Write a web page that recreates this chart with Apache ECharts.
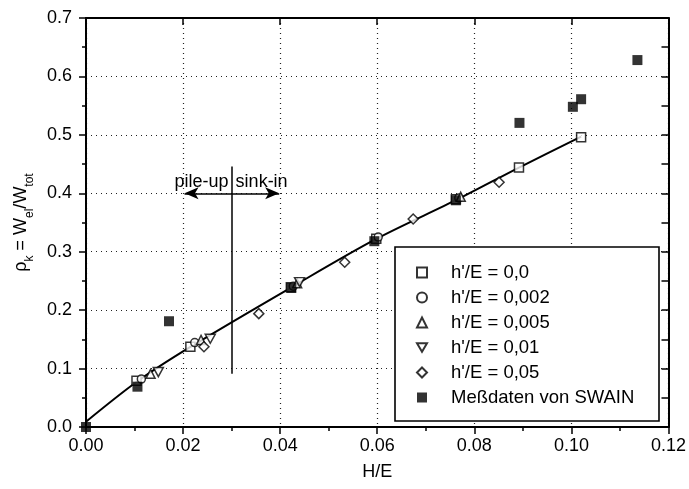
<!DOCTYPE html>
<html>
<head>
<meta charset="utf-8">
<script src="https://cdn.jsdelivr.net/npm/echarts@6/dist/echarts.min.js"></script>
<style>
  html, body { margin: 0; padding: 0; background: #fff; }
  #chart { width: 689px; height: 489px; }
</style>
</head>
<body>
<div id="chart"></div>
<script>
// Messpunkte (H/E, rho_k)
const sq0X = [0.0104, 0.0215, 0.0422, 0.0598, 0.0762, 0.0892, 0.1020];
const sq0Y = [0.079, 0.1375, 0.239, 0.322, 0.390, 0.444, 0.496];
const c002X = [0.0114, 0.0224, 0.0427, 0.0602, 0.0768];
const c002Y = [0.082, 0.1445, 0.241, 0.325, 0.392];
const t005X = [0.0133, 0.0237, 0.0435, 0.0772];
const t005Y = [0.091, 0.149, 0.246, 0.394];
const t01X = [0.0149, 0.0256, 0.0440];
const t01Y = [0.094, 0.151, 0.248];
const d05X = [0.0243, 0.0356, 0.0533, 0.0674, 0.0851];
const d05Y = [0.1375, 0.194, 0.282, 0.356, 0.419];
const swainX = [0, 0.0106, 0.0171, 0.0423, 0.0594, 0.0762, 0.0893, 0.1003, 0.1020, 0.1136];
const swainY = [0, 0.069, 0.181, 0.238, 0.318, 0.388, 0.5205, 0.548, 0.561, 0.628];
// Ausgleichskurve
const fitX = [0, 0.0104, 0.0215, 0.0425, 0.0596, 0.0764, 0.0892, 0.102];
const fitY = [0.009, 0.077, 0.137, 0.240, 0.321, 0.389, 0.444, 0.497];

const legendNames = ["h'/E = 0,0", "h'/E = 0,002", "h'/E = 0,005", "h'/E = 0,01", "h'/E = 0,05", "Meßdaten von SWAIN"];

const font = "'Liberation Sans', Arial, Helvetica, sans-serif";
// Dreieck mit Spitze nach unten
const triDown = "path://M0,0 L10,0 L5,8.66 Z";

function pts(xs, ys) {
  return xs.map((x, i) => [x, ys[i]]);
}

const myChart = echarts.init(document.getElementById("chart"));

const axisCommon = {
  type: "value",
  axisLine: { show: true, onZero: false, lineStyle: { color: "#000", width: 2 } },
  axisTick: { show: true, length: 7, lineStyle: { color: "#000", width: 1.5 } },
  minorTick: { show: true, splitNumber: 2, length: 4, lineStyle: { color: "#000", width: 1.5 } },
  axisLabel: { color: "#000", fontFamily: font, fontSize: 18 },
};

const openStyle = { color: "#fff", borderColor: "#000", borderWidth: 1.5 };

const option = {
  animation: false,
  backgroundColor: "#fff",
  grid: { left: 86, right: 18, top: 18, bottom: 62 },
  xAxis: [
    Object.assign({}, axisCommon, {
      min: 0, max: 0.12, interval: 0.02,
      position: "bottom",
      axisLabel: Object.assign({}, axisCommon.axisLabel, { margin: 10, formatter: v => v.toFixed(2) }),
      splitLine: { show: true, lineStyle: { color: "#222", type: [1, 4], width: 1.2 } },
      name: "H/E", nameLocation: "middle", nameGap: 36,
      nameTextStyle: { color: "#000", fontFamily: font, fontSize: 18 },
    }),
    Object.assign({}, axisCommon, {
      min: 0, max: 0.12, interval: 0.02,
      position: "top",
      axisTick: Object.assign({}, axisCommon.axisTick, { inside: true }),
      minorTick: Object.assign({}, axisCommon.minorTick, { show: false }),
      axisLabel: { show: false },
      splitLine: { show: false },
    }),
  ],
  yAxis: [
    Object.assign({}, axisCommon, {
      min: 0, max: 0.7, interval: 0.1,
      position: "left",
      axisLabel: Object.assign({}, axisCommon.axisLabel, { margin: 14, formatter: v => v.toFixed(1) }),
      splitLine: { show: true, lineStyle: { color: "#222", type: [1, 4], width: 1.2 } },
      name: "{a|ρ}{s|k}{a| = W}{s|el}{a|/W}{s|tot}",
      nameLocation: "middle", nameGap: 50, nameRotate: 90,
      nameTextStyle: {
        color: "#000", fontFamily: font, fontSize: 18,
        rich: {
          a: { fontFamily: font, fontSize: 18, color: "#000", lineHeight: 22, verticalAlign: "bottom" },
          s: { fontFamily: font, fontSize: 12, color: "#000", lineHeight: 22, verticalAlign: "bottom", padding: [0, 0, -6, 0] },
        },
      },
    }),
    Object.assign({}, axisCommon, {
      min: 0, max: 0.7, interval: 0.1,
      position: "right",
      axisTick: Object.assign({}, axisCommon.axisTick, { inside: true }),
      minorTick: { show: true, splitNumber: 2, length: 7, lineStyle: { color: "#000", width: 1.5 } },
      axisLabel: { show: false },
      splitLine: { show: false },
    }),
  ],
  legend: {
    data: legendNames,
    orient: "vertical",
    left: 416, top: 260,
    padding: 0,
    itemGap: 0,
    itemWidth: 10, itemHeight: 10,
    z: 10,
    textStyle: { color: "#000", fontFamily: font, fontSize: 18.5, lineHeight: 25, padding: [0, 0, 0, 19] },
  },
  graphic: [
    {
      type: "rect", z: 9,
      shape: { x: 395, y: 247, width: 264, height: 174 },
      style: { fill: "#fff", stroke: "#000", lineWidth: 1.6 },
    },
  ],
  series: [
    {
      name: "fit", type: "line", data: pts(fitX, fitY), smooth: 0.3,
      showSymbol: false, symbol: "none",
      lineStyle: { color: "#000", width: 2 }, z: 2, silent: true,
      markLine: {
        silent: true, symbol: "none", label: { show: false },
        lineStyle: { color: "#000", width: 1.5, type: "solid" },
        data: [
          [{ coord: [0.03, 0.091] }, { coord: [0.03, 0.446] }],
          [{ coord: [0.03, 0.4], symbol: "none" }, { coord: [0.0203, 0.4], symbol: "arrow", symbolSize: [9, 14] }],
          [{ coord: [0.03, 0.4], symbol: "none" }, { coord: [0.0398, 0.4], symbol: "arrow", symbolSize: [9, 14] }],
        ],
      },
      markPoint: {
        silent: true, symbol: "circle", symbolSize: 0,
        label: { show: true, color: "#000", fontFamily: font, fontSize: 18 },
        data: [
          { coord: [0.03, 0.419], value: "pile-up", label: { formatter: "pile-up", position: "left", distance: 3 } },
          { coord: [0.03, 0.419], value: "sink-in", label: { formatter: "sink-in", position: "right", distance: 4 } },
        ],
      },
    },
    {
      name: legendNames[0], type: "scatter", data: pts(sq0X, sq0Y),
      symbol: "rect", symbolSize: 9,
      itemStyle: openStyle, z: 3,
    },
    {
      name: legendNames[1], type: "scatter", data: pts(c002X, c002Y),
      symbol: "circle", symbolSize: 8,
      itemStyle: openStyle, z: 3,
    },
    {
      name: legendNames[2], type: "scatter", data: pts(t005X, t005Y),
      symbol: "triangle", symbolSize: 9,
      itemStyle: openStyle, z: 3,
    },
    {
      name: legendNames[3], type: "scatter", data: pts(t01X, t01Y),
      symbol: triDown, symbolSize: [10, 9],
      itemStyle: openStyle, z: 3,
    },
    {
      name: legendNames[4], type: "scatter", data: pts(d05X, d05Y),
      symbol: "diamond", symbolSize: 10,
      itemStyle: openStyle, z: 3,
    },
    {
      name: legendNames[5], type: "scatter", data: pts(swainX, swainY),
      symbol: "rect", symbolSize: 10,
      itemStyle: { color: "#000" }, z: 4,
    },
  ],
};

myChart.setOption(option);
</script>
</body>
</html>
